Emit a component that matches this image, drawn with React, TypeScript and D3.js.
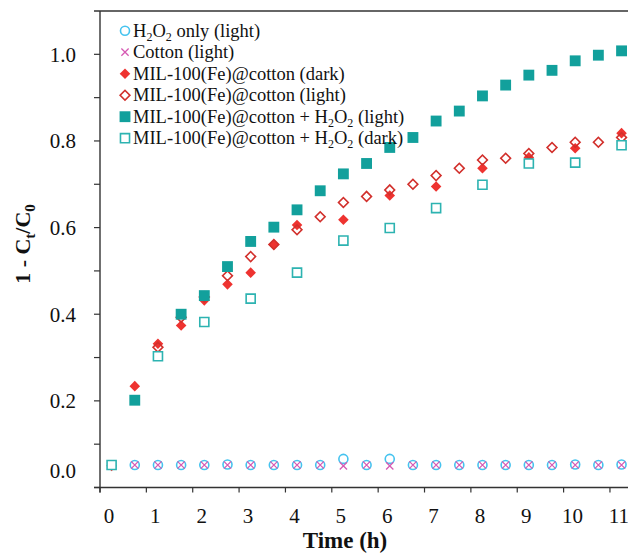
import * as d3 from "d3";

const W = 628;
const H = 558;
const x0 = 100;
const xEnd = 628;
const yTop = 11;
const yBottom = 487.5;

const xTicks = [0, 1, 2, 3, 4, 5, 6, 7, 8, 9, 10, 11];
const yTicks = [0, 0.1, 0.2, 0.3, 0.4, 0.5, 0.6, 0.7, 0.8, 0.9, 1.0];
const yLabels = [0, 0.2, 0.4, 0.6, 0.8, 1.0];

// H2O2 only (light)
const h2o2Time = [0.75, 1.25, 1.75, 2.25, 2.75, 3.25, 3.75, 4.25, 4.75, 5.25, 5.75, 6.25, 6.75, 7.25, 7.75, 8.25, 8.75, 9.25, 9.75, 10.25, 10.75, 11.25];
const h2o2Vals = [0.052, 0.052, 0.052, 0.052, 0.053, 0.052, 0.052, 0.052, 0.052, 0.066, 0.052, 0.066, 0.052, 0.052, 0.052, 0.052, 0.052, 0.052, 0.052, 0.053, 0.052, 0.053];

// Cotton (light)
const cottonTime = h2o2Time;
const cottonVals = [0.052, 0.052, 0.052, 0.052, 0.052, 0.052, 0.052, 0.052, 0.052, 0.05, 0.052, 0.05, 0.052, 0.052, 0.052, 0.052, 0.052, 0.052, 0.052, 0.052, 0.052, 0.052];

// MIL-100(Fe)@cotton (dark)
const darkTime = [0.25, 0.75, 1.25, 1.75, 2.25, 2.75, 3.25, 3.75, 4.25, 5.25, 6.25, 7.25, 8.25, 9.25, 10.25, 11.25];
const darkVals = [0.05, 0.234, 0.332, 0.374, 0.432, 0.469, 0.496, 0.561, 0.606, 0.618, 0.674, 0.695, 0.737, 0.762, 0.783, 0.818];

// MIL-100(Fe)@cotton (light)
const lightTime = [1.25, 1.75, 2.25, 2.75, 3.25, 3.75, 4.25, 4.75, 5.25, 5.75, 6.25, 6.75, 7.25, 7.75, 8.25, 8.75, 9.25, 9.75, 10.25, 10.75, 11.25];
const lightVals = [0.324, 0.393, 0.44, 0.489, 0.533, 0.561, 0.595, 0.625, 0.658, 0.672, 0.687, 0.7, 0.72, 0.737, 0.756, 0.76, 0.771, 0.785, 0.797, 0.797, 0.808];

// MIL-100(Fe)@cotton + H2O2 (light)
const fentonLightTime = [0.75, 1.75, 2.25, 2.75, 3.25, 3.75, 4.25, 4.75, 5.25, 5.75, 6.25, 6.75, 7.25, 7.75, 8.25, 8.75, 9.25, 9.75, 10.25, 10.75, 11.25];
const fentonLightVals = [0.2015, 0.4, 0.443, 0.51, 0.568, 0.601, 0.641, 0.685, 0.724, 0.748, 0.785, 0.808, 0.846, 0.869, 0.904, 0.929, 0.952, 0.963, 0.985, 0.998, 1.008];

// MIL-100(Fe)@cotton + H2O2 (dark)
const fentonDarkTime = [0.25, 1.25, 2.25, 3.25, 4.25, 5.25, 6.25, 7.25, 8.25, 9.25, 10.25, 11.25];
const fentonDarkVals = [0.052, 0.303, 0.382, 0.436, 0.496, 0.57, 0.599, 0.645, 0.699, 0.748, 0.75, 0.79];

const FONT = "'Liberation Serif', 'Times New Roman', Times, serif";

const teal = "#12a09c";
const tealLight = "#2db3b1";
const red = "#ee3330";
const redDark = "#d2302c";
const blue = "#45c3ef";
const pink = "#d65ab4";

type Marker = "circle" | "cross" | "diamondFilled" | "diamondOpen" | "squareFilled" | "squareOpen";

const symPath = {
  circle: d3.symbol(d3.symbolCircle, 64)()!,
  cross: d3.symbol(d3.symbolTimes, 36)()!,
  diamondFilled: d3.symbol(d3.symbolSquare, 56)()!,
  diamondOpen: d3.symbol(d3.symbolSquare, 48)()!,
  squareFilled: d3.symbol(d3.symbolSquare, 118)()!,
  squareOpen: d3.symbol(d3.symbolSquare, 82)()!,
};

function MarkerShape({ type, x, y }: { type: Marker; x: number; y: number }) {
  const d = symPath[type];
  if (type === "circle")
    return <path d={d} transform={`translate(${x},${y})`} fill="none" stroke={blue} strokeWidth={1.6} />;
  if (type === "cross")
    return <path d={d} transform={`translate(${x},${y})`} fill="none" stroke={pink} strokeWidth={1.3} />;
  if (type === "diamondFilled")
    return <path d={d} transform={`translate(${x},${y}) rotate(45)`} fill={red} stroke="none" />;
  if (type === "diamondOpen")
    return <path d={d} transform={`translate(${x},${y}) rotate(45)`} fill="none" stroke={redDark} strokeWidth={1.6} />;
  if (type === "squareFilled")
    return <path d={d} transform={`translate(${x},${y})`} fill={teal} stroke="none" />;
  return <path d={d} transform={`translate(${x},${y})`} fill="white" stroke={tealLight} strokeWidth={1.6} />;
}

const sub = (s: string) => <tspan dy={4} fontSize={12}>{s}</tspan>;

const series: { name: React.ReactNode; marker: Marker; time: number[]; vals: number[] }[] = [
  { name: <><tspan>H</tspan>{sub("2")}<tspan dy={-4}>O</tspan>{sub("2")}<tspan dy={-4}> only (light)</tspan></>, marker: "circle", time: h2o2Time, vals: h2o2Vals },
  { name: "Cotton (light)", marker: "cross", time: cottonTime, vals: cottonVals },
  { name: "MIL-100(Fe)@cotton (dark)", marker: "diamondFilled", time: darkTime, vals: darkVals },
  { name: "MIL-100(Fe)@cotton (light)", marker: "diamondOpen", time: lightTime, vals: lightVals },
  { name: <><tspan>MIL-100(Fe)@cotton + H</tspan>{sub("2")}<tspan dy={-4}>O</tspan>{sub("2")}<tspan dy={-4}> (light)</tspan></>, marker: "squareFilled", time: fentonLightTime, vals: fentonLightVals },
  { name: <><tspan>MIL-100(Fe)@cotton + H</tspan>{sub("2")}<tspan dy={-4}>O</tspan>{sub("2")}<tspan dy={-4}> (dark)</tspan></>, marker: "squareOpen", time: fentonDarkTime, vals: fentonDarkVals },
];

export default function App() {
  const x = d3.scaleLinear().domain([0, 1]).range([x0, x0 + 46.36]);
  const y = d3.scaleLinear().domain([0, 1.1]).range([yBottom, yTop]);

  return (
    <svg width={W} height={H} style={{ position: "absolute", left: 0, top: 0, display: "block", background: "white" }} fontFamily={FONT}>
      {/* frame: top line, left axis, bottom axis */}
      <line x1={94} x2={xEnd} y1={y(1.1)} y2={y(1.1)} stroke="#333" strokeWidth={1.4} />
      <line x1={x0} x2={x0} y1={y(1.1)} y2={yBottom + 5} stroke="#333" strokeWidth={1.4} />
      <line x1={94} x2={xEnd} y1={yBottom} y2={yBottom} stroke="#333" strokeWidth={1.4} />

      {yTicks.map((t) => (
        <line key={"yt" + t} x1={94} x2={x0} y1={y(t)} y2={y(t)} stroke="#333" strokeWidth={1.2} />
      ))}
      {yLabels.map((t) => (
        <text key={"yl" + t} x={76} y={y(t) + (t === 0 ? -9.5 : 7.5)} textAnchor="end" fontSize={21} fill="#111">
          {d3.format(".1f")(t)}
        </text>
      ))}

      {xTicks.map((t) => (
        <g key={"xt" + t}>
          <line x1={x(t)} x2={x(t)} y1={yBottom} y2={yBottom + 5} stroke="#333" strokeWidth={1.2} />
          <text x={x(t) + 9} y={yBottom + 35} textAnchor="middle" fontSize={21} fill="#111">{t}</text>
        </g>
      ))}

      <text x={345} y={548} textAnchor="middle" fontSize={23} fontWeight="bold" fill="#111">Time (h)</text>
      <text transform="translate(30,244) rotate(-90)" textAnchor="middle" fontSize={22} fontWeight="bold" fill="#111">
        <tspan>1 - C</tspan><tspan dy={5} fontSize={15}>t</tspan><tspan dy={-5}>/C</tspan><tspan dy={5} fontSize={15}>0</tspan>
      </text>

      {series.map((s, i) => (
        <g key={"s" + i}>
          {s.time.map((t, j) => (
            <MarkerShape key={j} type={s.marker} x={x(t)} y={y(s.vals[j])} />
          ))}
        </g>
      ))}

      {series.map((s, i) => {
        const cy = 30.7 + i * 21.5;
        return (
          <g key={"lg" + i}>
            <MarkerShape type={s.marker} x={125} y={cy} />
            <text x={133} y={cy + 6} fontSize={18.5} fill="#111">{s.name}</text>
          </g>
        );
      })}
    </svg>
  );
}
